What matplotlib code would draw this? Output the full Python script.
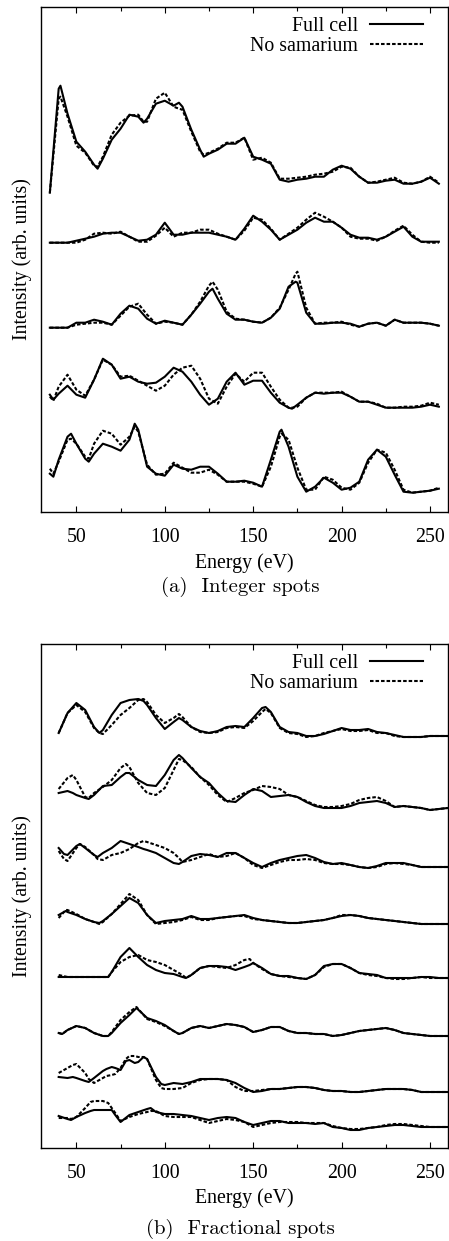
import matplotlib
matplotlib.use("Agg")
import matplotlib.pyplot as plt
from matplotlib.ticker import MultipleLocator

# ---------------- (a) Integer spots ----------------
int1_E = [35, 40, 41, 45, 50, 55, 60, 62, 65, 70, 75, 80, 85, 88, 90, 95, 100, 105, 108, 110,
          115, 120, 122, 125, 130, 135, 140, 145, 150, 155, 160, 165, 170, 175, 180, 185, 190, 195, 200, 205,
          210, 215, 220, 225, 230, 235, 240, 245, 250, 255]
int1_full = [319, 423, 426, 398, 370, 360, 347, 343, 353, 372, 383, 397, 395, 389, 393, 408, 411, 406, 409, 405,
             382, 362, 355, 358, 362, 368, 368, 374, 355, 352, 348, 332, 330, 332, 333, 335, 335, 342, 346, 343,
             335, 329, 329, 331, 332, 328, 328, 330, 334, 328]
int1_nosm = [319, 413, 415, 395, 366, 359, 346, 345, 355, 377, 389, 396, 397, 390, 390, 413, 419, 405, 403, 402,
             380, 360, 357, 359, 363, 369, 369, 374, 352, 354, 349, 333, 333, 334, 335, 337, 338, 340, 345, 344,
             335, 329, 330, 332, 334, 329, 328, 330, 335, 329]

int2_E = [35, 40, 45, 50, 55, 60, 65, 70, 75, 80, 85, 90, 95, 100, 105, 110, 115, 120, 125, 130,
          135, 140, 145, 150, 155, 160, 165, 170, 175, 180, 185, 190, 195, 200, 205, 210, 215, 220, 225, 230,
          235, 240, 245, 250, 255]
int2_full = [269, 269, 269, 271, 273, 275, 278, 279, 279, 275, 271, 272, 277, 289, 277, 277, 279, 279, 279, 277,
             275, 272, 283, 296, 290, 282, 272, 277, 282, 289, 294, 290, 290, 284, 277, 274, 274, 272, 275, 280,
             285, 275, 270, 270, 270]
int2_nosm = [269, 269, 269, 269, 272, 278, 279, 278, 280, 275, 270, 270, 276, 284, 275, 279, 279, 282, 282, 278,
             275, 272, 281, 294, 292, 283, 272, 278, 284, 292, 299, 295, 290, 284, 275, 273, 273, 271, 275, 281,
             286, 277, 270, 269, 269]

int3_E = [35, 40, 45, 50, 55, 60, 65, 70, 75, 80, 85, 90, 95, 100, 105, 110, 115, 120, 125, 127,
          130, 135, 140, 145, 150, 155, 160, 165, 170, 174, 175, 180, 185, 190, 195, 200, 205, 210, 215, 220,
          225, 230, 235, 240, 245, 250, 255]
int3_full = [184, 184, 184, 189, 189, 192, 190, 187, 198, 206, 203, 193, 188, 191, 189, 187, 197, 208, 220, 223,
             213, 198, 192, 192, 190, 189, 194, 203, 225, 230, 229, 199, 188, 188, 189, 189, 188, 185, 188, 189,
             186, 192, 189, 189, 189, 188, 186]
int3_nosm = [184, 184, 184, 187, 188, 189, 189, 187, 196, 205, 208, 197, 188, 190, 189, 187, 197, 210, 226, 230,
             222, 200, 193, 192, 190, 189, 194, 204, 222, 238, 240, 204, 188, 189, 189, 190, 187, 185, 188, 189,
             186, 192, 189, 189, 189, 188, 186]

int4_E = [35, 37, 40, 45, 50, 55, 60, 65, 70, 75, 80, 85, 90, 95, 100, 105, 110, 115, 120, 125,
          130, 135, 140, 145, 150, 155, 160, 165, 170, 172, 175, 180, 185, 190, 195, 200, 205, 210, 215, 220,
          225, 230, 235, 240, 245, 250, 255]
int4_full = [117, 112, 118, 126, 117, 114, 132, 153, 147, 133, 135, 130, 128, 129, 135, 144, 140, 130, 117, 107,
             113, 130, 139, 127, 131, 131, 119, 109, 104, 103, 107, 114, 119, 118, 119, 119, 115, 110, 110, 107,
             104, 104, 104, 104, 105, 107, 105]
int4_nosm = [115, 111, 125, 137, 122, 116, 132, 152, 147, 135, 136, 131, 126, 121, 126, 137, 144, 146, 133, 113,
             108, 125, 138, 130, 139, 139, 125, 112, 104, 104, 105, 114, 119, 119, 119, 120, 115, 110, 110, 108,
             104, 104, 105, 105, 106, 109, 107]

int5_E = [35, 37, 40, 45, 47, 50, 55, 57, 60, 65, 70, 75, 80, 83, 85, 90, 95, 100, 105, 110,
          115, 120, 125, 130, 135, 140, 145, 150, 155, 160, 165, 166, 170, 175, 180, 185, 190, 195, 200, 205,
          210, 215, 220, 225, 230, 235, 240, 245, 250, 255]
int5_full = [38, 35, 52, 75, 78, 68, 53, 50, 58, 68, 65, 61, 72, 88, 82, 45, 38, 36, 47, 43,
             42, 45, 45, 38, 30, 30, 31, 29, 25, 52, 80, 82, 65, 35, 20, 25, 34, 29, 22, 24,
             30, 52, 62, 55, 37, 20, 19, 20, 21, 23]
int5_nosm = [43, 38, 50, 72, 73, 68, 55, 53, 68, 81, 78, 67, 75, 85, 80, 47, 37, 38, 49, 44,
             39, 39, 42, 37, 30, 30, 30, 28, 25, 45, 75, 78, 72, 44, 22, 22, 35, 32, 24, 22,
             29, 49, 62, 59, 42, 22, 19, 20, 21, 24]

# ---------------- (b) Fractional spots ----------------
frac1_E = [40, 45, 50, 55, 60, 63, 65, 70, 75, 80, 85, 88, 90, 95, 100, 105, 108, 110, 115, 120,
           125, 130, 135, 140, 145, 150, 155, 157, 160, 165, 170, 175, 180, 185, 190, 195, 200, 205, 210, 215,
           220, 225, 230, 235, 240, 245, 250, 255, 260]
frac1_full = [415, 435, 445, 438, 421, 415, 418, 433, 445, 448, 449, 447, 443, 430, 419, 426, 430, 428, 421, 417,
              415, 417, 421, 422, 421, 430, 440, 441, 436, 421, 416, 415, 412, 412, 414, 417, 420, 418, 418, 419,
              416, 415, 413, 411, 411, 411, 412, 412, 412]
frac1_nosm = [415, 435, 443, 436, 420, 415, 414, 423, 433, 440, 448, 449, 446, 433, 425, 430, 434, 431, 421, 416,
              415, 416, 420, 421, 420, 427, 436, 439, 435, 420, 415, 414, 411, 412, 415, 417, 419, 417, 417, 418,
              415, 415, 412, 411, 411, 411, 412, 412, 412]

frac2_E = [40, 45, 48, 50, 55, 57, 60, 65, 70, 75, 78, 80, 85, 90, 95, 100, 105, 108, 110, 115,
           120, 125, 130, 135, 140, 145, 150, 155, 160, 165, 170, 175, 180, 185, 190, 195, 200, 205, 210, 215,
           220, 225, 230, 235, 240, 245, 250, 255, 260]
frac2_full = [355, 357, 355, 353, 350, 349, 353, 362, 363, 371, 375, 375, 368, 363, 362, 373, 388, 393, 390, 380,
              371, 365, 355, 347, 346, 353, 359, 357, 351, 352, 353, 351, 346, 342, 340, 340, 340, 342, 345, 346,
              347, 345, 341, 342, 341, 340, 338, 339, 340]
frac2_nosm = [359, 370, 373, 368, 351, 350, 355, 361, 368, 380, 384, 381, 365, 355, 353, 360, 378, 389, 388, 381,
              371, 363, 353, 346, 350, 355, 358, 362, 361, 359, 353, 351, 347, 343, 341, 341, 342, 344, 348, 350,
              351, 347, 341, 342, 341, 340, 338, 339, 340]

frac3_E = [40, 43, 45, 50, 52, 55, 60, 62, 65, 70, 75, 80, 85, 88, 90, 95, 100, 105, 108, 110,
           115, 120, 125, 130, 135, 140, 145, 150, 155, 160, 165, 170, 175, 180, 185, 190, 195, 200, 205, 210,
           215, 220, 225, 230, 235, 240, 245, 250, 255, 260]
frac3_full = [300, 294, 293, 302, 304, 300, 293, 291, 295, 300, 307, 304, 301, 299, 298, 295, 290, 285, 284, 286,
              292, 294, 293, 291, 295, 295, 290, 285, 281, 285, 288, 290, 292, 293, 290, 286, 284, 285, 283, 281,
              280, 282, 285, 285, 285, 283, 281, 281, 281, 281]
frac3_nosm = [297, 289, 287, 300, 304, 301, 293, 289, 288, 293, 295, 299, 305, 307, 306, 303, 300, 295, 290, 286,
              288, 291, 294, 291, 292, 295, 290, 283, 280, 283, 286, 288, 288, 289, 288, 285, 284, 284, 283, 281,
              280, 281, 284, 285, 284, 283, 281, 281, 281, 281]

frac4_E = [40, 44, 45, 50, 55, 60, 63, 65, 70, 75, 80, 85, 90, 95, 100, 105, 110, 115, 120, 125,
           130, 135, 140, 145, 150, 155, 160, 165, 170, 175, 180, 185, 190, 195, 200, 205, 210, 215, 220, 225,
           230, 235, 240, 245, 250, 255, 260]
frac4_full = [233, 237, 236, 233, 229, 226, 225, 227, 234, 242, 250, 245, 233, 225, 227, 228, 229, 232, 229, 229,
              230, 231, 232, 233, 230, 228, 227, 226, 225, 225, 226, 227, 228, 230, 232, 233, 232, 230, 229, 228,
              227, 226, 225, 224, 224, 224, 224]
frac4_nosm = [230, 238, 238, 234, 229, 226, 224, 226, 234, 244, 254, 248, 233, 224, 225, 226, 228, 231, 228, 228,
              230, 231, 232, 232, 229, 228, 227, 226, 225, 225, 226, 227, 228, 230, 233, 233, 232, 230, 229, 228,
              227, 226, 225, 224, 224, 224, 224]

frac5_E = [40, 45, 50, 55, 60, 65, 68, 70, 75, 80, 85, 90, 95, 100, 105, 110, 112, 115, 120, 125,
           130, 135, 140, 145, 148, 150, 155, 160, 165, 170, 175, 180, 185, 190, 195, 200, 205, 210, 215, 220,
           225, 230, 235, 240, 245, 250, 255, 260]
frac5_full = [171, 171, 171, 171, 171, 171, 171, 176, 191, 200, 191, 183, 178, 175, 174, 171, 170, 173, 180, 182,
              182, 181, 178, 181, 183, 185, 180, 174, 172, 172, 170, 169, 173, 182, 184, 184, 180, 175, 174, 173,
              170, 170, 170, 170, 171, 171, 170, 170]
frac5_nosm = [173, 171, 171, 171, 171, 171, 171, 176, 186, 191, 193, 188, 186, 183, 178, 173, 170, 173, 180, 182,
              181, 180, 183, 188, 189, 185, 179, 174, 172, 171, 170, 169, 173, 181, 184, 184, 180, 175, 173, 172,
              170, 169, 169, 170, 171, 170, 170, 170]

frac6_E = [40, 42, 45, 50, 55, 60, 65, 68, 70, 75, 80, 84, 90, 95, 100, 105, 108, 110, 115, 120,
           125, 130, 135, 140, 145, 150, 155, 160, 165, 170, 175, 180, 185, 190, 195, 200, 205, 210, 215, 220,
           225, 230, 235, 240, 245, 250, 255, 260]
frac6_full = [115, 114, 118, 122, 120, 115, 112, 112, 115, 125, 133, 140, 130, 127, 123, 117, 114, 115, 120, 122,
              120, 122, 124, 123, 121, 116, 118, 121, 121, 117, 115, 115, 114, 114, 112, 113, 115, 117, 118, 119,
              120, 118, 115, 114, 113, 112, 112, 112]
frac6_nosm = [115, 114, 118, 122, 120, 115, 112, 112, 116, 128, 136, 141, 129, 126, 122, 117, 114, 115, 120, 122,
              120, 122, 124, 123, 121, 116, 118, 121, 121, 117, 115, 115, 114, 114, 112, 113, 115, 117, 118, 119,
              120, 118, 115, 114, 113, 112, 112, 112]

frac7_E = [40, 45, 48, 50, 55, 57, 60, 65, 67, 70, 72, 75, 78, 80, 83, 85, 88, 90, 95, 98,
           100, 105, 110, 115, 120, 125, 130, 135, 140, 145, 150, 155, 160, 165, 170, 175, 180, 185, 190, 195,
           200, 205, 210, 215, 220, 225, 230, 235, 240, 245, 250, 255, 260]
frac7_full = [71, 70, 71, 70, 67, 66, 70, 77, 79, 81, 80, 78, 87, 88, 85, 86, 91, 89, 71, 64,
              63, 65, 64, 66, 69, 69, 69, 68, 65, 60, 56, 57, 59, 59, 60, 61, 61, 60, 58, 57,
              57, 56, 56, 57, 58, 59, 59, 59, 58, 56, 56, 56, 56]
frac7_nosm = [75, 80, 83, 84, 75, 69, 65, 70, 72, 73, 74, 80, 89, 92, 92, 91, 91, 89, 68, 60,
              59, 59, 60, 65, 68, 69, 69, 68, 61, 57, 57, 58, 59, 59, 60, 61, 61, 60, 58, 57,
              57, 56, 56, 57, 58, 59, 59, 59, 58, 56, 56, 56, 56]

frac8_E = [40, 45, 47, 50, 55, 58, 60, 65, 68, 70, 72, 75, 80, 85, 90, 92, 95, 100, 105, 110,
           115, 120, 125, 130, 135, 140, 145, 150, 155, 160, 165, 170, 175, 180, 185, 190, 195, 200, 205, 210,
           215, 220, 225, 230, 235, 240, 245, 250, 255, 260]
frac8_full = [32, 29, 28, 31, 35, 37, 38, 38, 38, 38, 33, 26, 33, 36, 39, 40, 36, 34, 34, 33,
              32, 30, 28, 30, 31, 30, 26, 23, 25, 27, 27, 25, 25, 25, 24, 25, 21, 20, 18, 18,
              20, 21, 22, 23, 23, 22, 21, 21, 21, 21]
frac8_nosm = [30, 30, 29, 31, 40, 46, 47, 47, 45, 40, 35, 27, 31, 34, 36, 37, 37, 32, 31, 31,
              31, 28, 25, 27, 29, 28, 26, 21, 23, 25, 26, 26, 26, 25, 25, 25, 22, 20, 19, 19,
              20, 21, 23, 24, 24, 23, 22, 21, 21, 21]

x_ticks = [50, 100, 150, 200, 250]
legend_labels = ["Full cell", "No samarium"]
captions = ["(a)  Integer spots", "(b)  Fractional spots"]
x_label = "Energy (eV)"
y_label = "Intensity (arb. units)"

integer_curves = [(int1_E, int1_full, int1_nosm), (int2_E, int2_full, int2_nosm),
                  (int3_E, int3_full, int3_nosm), (int4_E, int4_full, int4_nosm),
                  (int5_E, int5_full, int5_nosm)]
fractional_curves = [(frac1_E, frac1_full, frac1_nosm), (frac2_E, frac2_full, frac2_nosm),
                     (frac3_E, frac3_full, frac3_nosm), (frac4_E, frac4_full, frac4_nosm),
                     (frac5_E, frac5_full, frac5_nosm), (frac6_E, frac6_full, frac6_nosm),
                     (frac7_E, frac7_full, frac7_nosm), (frac8_E, frac8_full, frac8_nosm)]

SERIF = ["Liberation Serif", "DejaVu Serif"]
FS = 14.3
W, H = 449, 1241

fig = plt.figure(figsize=(W / 100, H / 100), dpi=100)

panels = [
    (integer_curves, [41 / W, 1 - 511.7 / H, 406.7 / W, 504.7 / H], 504.7, captions[0], 587, 563),
    (fractional_curves, [41 / W, 1 - 1148 / H, 406.7 / W, 504 / H], 504.0, captions[1], 1229, 1198),
]

for curves, rect, ytop, cap, cap_y, xl_px in panels:
    ax = fig.add_axes(rect)
    handles = []
    for i, (E, full, nosm) in enumerate(curves):
        l1, = ax.plot(E, full, color="black", lw=1.5, solid_joinstyle="round")
        l2, = ax.plot(E, nosm, color="black", lw=1.5, dashes=(1.7, 0.95))
        if i == 0:
            handles = [l1, l2]
    ax.set_xlim(30, 260)
    ax.set_ylim(0, ytop)
    ax.xaxis.set_major_locator(MultipleLocator(50))
    ax.xaxis.set_minor_locator(MultipleLocator(25))
    ax.set_xticks(x_ticks)
    ax.tick_params(axis="x", which="both", direction="in", top=True, bottom=True, width=0.8)
    ax.tick_params(axis="x", which="major", length=4.3, pad=11.5)
    ax.tick_params(axis="x", which="minor", length=3.0)
    ax.tick_params(axis="y", which="both", left=False, right=False, labelleft=False)
    for lab in ax.get_xticklabels():
        lab.set_fontfamily(SERIF)
        lab.set_fontsize(FS)
    for sp in ax.spines.values():
        sp.set_linewidth(1.0)
    ax_bottom_px = H * (1 - rect[1])
    ax.set_xlabel(x_label, fontfamily=SERIF, fontsize=FS)
    ax.xaxis.set_label_coords(0.5, (ax_bottom_px - xl_px) / (rect[3] * H))
    ax.xaxis.label.set_va("center")
    ax.set_ylabel(y_label, fontfamily=SERIF, fontsize=FS)
    ax.yaxis.set_label_coords(-19 / 406.7, 0.5)
    ax.yaxis.label.set_va("center")
    leg = ax.legend(handles, legend_labels, loc="upper right", bbox_to_anchor=(0.939, 0.981),
                    frameon=False, markerfirst=False, handlelength=2.65, handletextpad=0.6,
                    borderpad=0, borderaxespad=0, labelspacing=0.06,
                    prop={"family": SERIF, "size": FS})
    fig.text(240 / W, 1 - cap_y / H, cap, family="cmr10", fontsize=15.0, ha="center", va="center")

fig.savefig("out.png", dpi=100)
